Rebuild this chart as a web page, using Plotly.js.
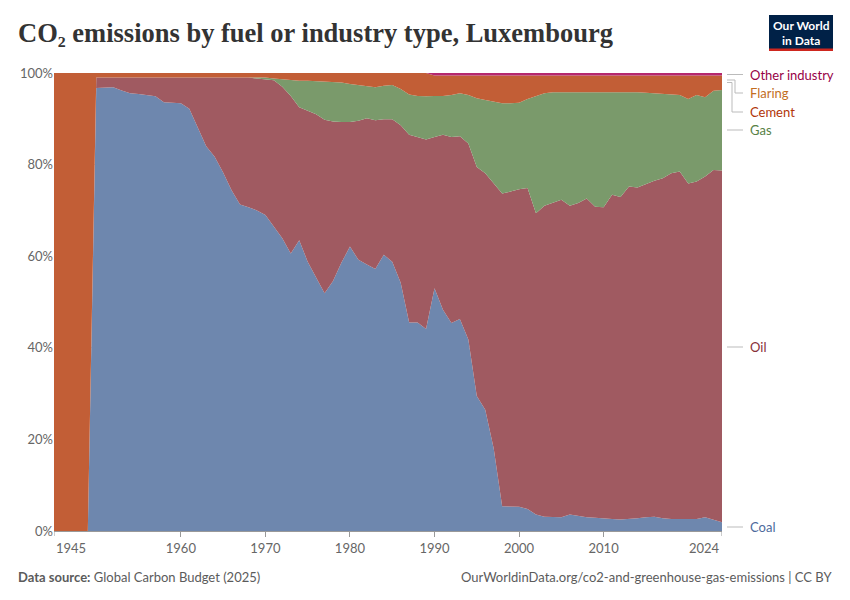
<!DOCTYPE html>
<html>
<head>
<meta charset="utf-8">
<script src="https://cdn.plot.ly/plotly-3.0.1.min.js"></script>
<style>
html,body{margin:0;padding:0;background:#fff;}
#chart{width:850px;height:600px;}
</style>
</head>
<body>
<div id="chart"></div>
<script>
// Years 1945-2024
const years = [];
for (let y = 1945; y <= 2024; y++) years.push(y);

// Share of CO2 emissions (%)
const coal = [0,0,0,0,0,
 96.7,96.8,96.9,96.2,95.6,95.4,95.1,94.9,93.6,93.5,
 93.4,92.2,88.0,84.0,81.7,78.3,74.4,71.3,70.7,70.0,
 69.0,66.4,63.9,60.6,63.5,58.8,55.4,51.9,54.6,58.6,
 62.1,59.2,58.2,57.2,60.3,58.8,54.2,45.5,45.5,44.1,
 53.0,48.3,45.4,46.3,41.8,29.5,26.5,18.0,5.4,5.4,
 5.3,4.8,3.6,3.1,3.1,3.0,3.6,3.3,3.0,2.9,
 2.7,2.6,2.5,2.6,2.8,3.0,3.1,2.8,2.6,2.6,
 2.6,2.6,3.0,2.4,1.9];
// coal + oil (upper edge of oil band)
const oilTop = [0,0,0,0,0,
 99.0,99.0,99.0,99.0,99.0,99.0,99.0,99.0,99.0,99.0,
 99.0,99.0,99.0,99.0,99.0,99.0,99.0,99.0,99.0,98.8,
 98.6,98.4,97.0,95.0,92.5,91.8,91.0,89.8,89.4,89.3,
 89.3,89.6,90.1,89.7,89.9,89.9,88.6,86.5,86.0,85.5,
 86.0,86.5,86.0,86.2,84.6,79.5,78.1,75.9,73.7,74.1,
 74.6,74.9,69.4,71.0,71.7,72.3,71.0,71.6,72.6,70.8,
 70.7,73.4,72.9,75.2,75.0,75.8,76.5,77.0,78.1,78.5,
 75.9,76.3,77.4,78.8,78.7];
// coal + oil + gas (upper edge of gas band)
const gasTop = [0,0,0,0,0,
 99.0,99.0,99.0,99.0,99.0,99.0,99.0,99.0,99.0,99.0,
 99.0,99.0,99.0,99.0,99.0,99.0,99.0,99.0,99.0,99.0,
 99.0,98.8,98.6,98.4,98.3,98.3,98.2,98.1,98.1,97.9,
 97.6,97.4,97.2,96.9,97.2,97.4,96.5,95.3,95.0,94.9,
 95.0,95.0,95.2,95.6,95.2,94.5,94.1,93.8,93.4,93.4,
 93.5,94.3,95.0,95.6,95.8,95.8,95.9,95.8,95.8,95.9,
 95.9,95.8,95.8,95.8,95.8,95.7,95.6,95.4,95.3,95.2,
 94.3,95.2,94.7,96.1,96.3];
const otherIndustry = years.map(y => y >= 1990 ? 0.55 : 0);
const flaring = years.map(y => 0);

const oil = oilTop.map((v, i) => Math.max(0, v - coal[i]));
const gas = gasTop.map((v, i) => Math.max(0, v - oilTop[i]));
const cement = gasTop.map((v, i) => Math.max(0, 100 - v - otherIndustry[i] - flaring[i]));

const seriesNames = ["Coal", "Oil", "Gas", "Cement", "Flaring", "Other industry"];
const seriesValues = [coal, oil, gas, cement, flaring, otherIndustry];
const fillColors = ["#6e87ae", "#a05a61", "#7a9a6b", "#c25e36", "#c98a4f", "#b5286e"];
const labelColors = ["#4c6a9c", "#883039", "#578145", "#b13507", "#c36e1f", "#970046"];
const labelY = [0.9, 40.2, 87.6, 91.5, 95.6, 99.6];

const xTickLabels = [1960, 1970, 1980, 1990, 2000, 2010];
const xEdgeTicks = [1945, 2024];
const yTicks = [0, 20, 40, 60, 80, 100];

const traces = seriesNames.map((name, i) => ({
  x: years, y: seriesValues[i], name: name,
  type: "scatter", mode: "lines", stackgroup: "one",
  line: {width: 0, color: fillColors[i]},
  fillcolor: fillColors[i], hoverinfo: "x+y+name"
}));

function px(xp) { return 1 + (xp - 722) / 668; }
function py(yp) { return (531 - yp) / 458; }

const annotations = [];
seriesNames.forEach((name, i) => {
  annotations.push({
    xref: "paper", yref: "y", x: 1, y: labelY[i], xshift: 26,
    xanchor: "left", yanchor: "middle", text: name, showarrow: false,
    font: {family: "Lato", size: 13, color: labelColors[i]}
  });
});
// edge tick labels
annotations.push({xref: "x", yref: "paper", x: xEdgeTicks[0], y: 0, yshift: -7, xanchor: "left", yanchor: "top",
  text: String(xEdgeTicks[0]), showarrow: false, font: {family: "Lato", size: 13, color: "#666"}});
annotations.push({xref: "x", yref: "paper", x: xEdgeTicks[1], y: 0, yshift: -7, xanchor: "right", yanchor: "top",
  text: String(xEdgeTicks[1]), showarrow: false, font: {family: "Lato", size: 13, color: "#666"}});
// title
annotations.push({xref: "paper", yref: "paper", x: px(16), y: py(33), xanchor: "left", yanchor: "middle",
  text: "<b>CO\u2082 emissions by fuel or industry type, Luxembourg</b>", showarrow: false,
  font: {family: "Liberation Serif", size: 26.5, color: "#333"}});
// footer
annotations.push({xref: "paper", yref: "paper", x: px(16), y: py(577), xanchor: "left", yanchor: "middle",
  text: "<b>Data source:</b> Global Carbon Budget (2025)", showarrow: false,
  font: {family: "Lato", size: 13, color: "#5b5b5b"}});
annotations.push({xref: "paper", yref: "paper", x: px(834), y: py(577), xanchor: "right", yanchor: "middle",
  text: "OurWorldinData.org/co2-and-greenhouse-gas-emissions | CC BY", showarrow: false,
  font: {family: "Lato", size: 13, color: "#5b5b5b"}});
// logo
annotations.push({xref: "paper", yref: "paper", x: px(801), y: py(26), xanchor: "center", yanchor: "middle",
  text: "<b>Our World</b>", showarrow: false, font: {family: "Lato", size: 12, color: "#fff"}});
annotations.push({xref: "paper", yref: "paper", x: px(801), y: py(40), xanchor: "center", yanchor: "middle",
  text: "<b>in Data</b>", showarrow: false, font: {family: "Lato", size: 12, color: "#fff"}});

const lc = "#bbb";
function conn(pts) {
  return {type: "path", xref: "paper", yref: "paper",
    path: pts.map((p, k) => (k ? "L " : "M ") + px(p[0]) + " " + py(p[1])).join(" "),
    line: {color: lc, width: 1}};
}
const shapes = [
  // logo box
  {type: "rect", xref: "paper", yref: "paper", x0: px(769), x1: px(833), y0: py(51), y1: py(15),
   fillcolor: "#002147", line: {width: 0}},
  {type: "rect", xref: "paper", yref: "paper", x0: px(769), x1: px(833), y0: py(51), y1: py(48.5),
   fillcolor: "#ce261e", line: {width: 0}},
];
// edge tick marks
xEdgeTicks.forEach(t => shapes.push({type: "line", xref: "x", yref: "paper", x0: t, x1: t, y0: 0, y1: -5/458,
  line: {color: "#999", width: 1}}));
shapes.push(conn([[727, 74.5], [743, 74.5]]));
shapes.push(conn([[727, 80], [735, 80], [735, 93], [743, 93]]));
shapes.push(conn([[727, 82.5], [732, 82.5], [732, 112], [743, 112]]));
shapes.push(conn([[727, 130], [743, 130]]));
shapes.push(conn([[727, 347], [743, 347]]));
shapes.push(conn([[727, 527], [743, 527]]));

const layout = {
  width: 850, height: 600,
  margin: {l: 54, r: 128, t: 73, b: 69},
  paper_bgcolor: "#fff", plot_bgcolor: "#fff",
  showlegend: false,
  font: {family: "Lato", size: 13, color: "#666"},
  xaxis: {
    range: [1945, 2024], tickvals: xTickLabels, ticktext: xTickLabels.map(String),
    ticks: "outside", ticklen: 5, tickcolor: "#999", showgrid: false, zeroline: false,
    showline: true, linecolor: "#999", linewidth: 1,
    tickfont: {family: "Lato", size: 13, color: "#666"}
  },
  yaxis: {
    range: [0, 100], tickvals: yTicks, ticktext: yTicks.map(t => t + "%"),
    showgrid: true, gridcolor: "#ddd", griddash: "dash", zeroline: false,
    ticks: "", showline: false,
    tickfont: {family: "Lato", size: 13, color: "#666"}
  },
  annotations: annotations,
  shapes: shapes
};

Plotly.newPlot("chart", traces, layout, {displayModeBar: false, staticPlot: true});
</script>
</body>
</html>
